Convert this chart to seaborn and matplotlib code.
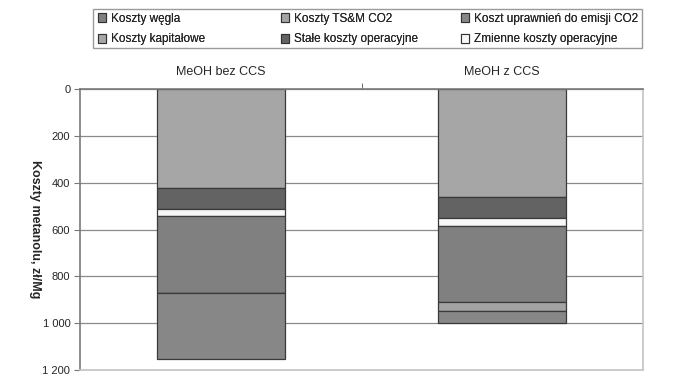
import matplotlib
matplotlib.use("Agg")
import matplotlib.pyplot as plt
import seaborn as sns
import pandas as pd
import numpy as np
from matplotlib.patches import Patch, Rectangle

categories = ["MeOH bez CCS", "MeOH z CCS"]
series_names = ["Koszty kapitałowe", "Stałe koszty operacyjne", "Zmienne koszty operacyjne",
                "Koszty węgla", "Koszty TS&M CO2", "Koszt uprawnień do emisji CO2"]
kapitalowe = [424, 460]
stale = [90, 93]
zmienne = [28, 32]
wegiel = [331, 324]
tsm = [0, 37]
uprawnienia = [282, 55]
y_ticks = [0, 200, 400, 600, 800, 1000, 1200]
y_tick_labels = ["0", "200", "400", "600", "800", "1 000", "1 200"]

colors = {
    "Koszty kapitałowe": "#a6a6a6",
    "Stałe koszty operacyjne": "#636363",
    "Zmienne koszty operacyjne": "#f7f7f7",
    "Koszty węgla": "#808080",
    "Koszty TS&M CO2": "#a3a3a3",
    "Koszt uprawnień do emisji CO2": "#878787",
}

values = [kapitalowe, stale, zmienne, wegiel, tsm, uprawnienia]
rows = []
for name, vals in zip(series_names, values):
    for c, v in zip(categories, vals):
        rows.append({"kategoria": c, "seria": name, "wartosc": v})
df = pd.DataFrame(rows)

sns.set_style("white")
plt.rcParams["font.family"] = ["Liberation Sans", "DejaVu Sans"]

fig = plt.figure(figsize=(6.9, 3.84), dpi=100)
ax = fig.add_axes([80/690, 1-370/384, (643-80)/690, (370-89)/384])

cum = pd.Series(0.0, index=categories)
for name in series_names:
    sub = df[df["seria"] == name].set_index("kategoria").loc[categories]
    sub = sub.reset_index()
    sub["start"] = cum.values
    sns.barplot(data=sub, x="kategoria", y="wartosc", ax=ax, color=colors[name],
                width=0.455, edgecolor="#3a3a3a", linewidth=0.9, saturation=1,
                bottom=sub["start"].values, order=categories)
    cum = cum + sub.set_index("kategoria")["wartosc"]

ax.set_ylim(1200, 0)
ax.set_xlim(-0.5, 1.5)
ax.set_yticks(y_ticks)
ax.set_yticklabels(y_tick_labels, fontsize=8)
ax.yaxis.grid(True, color="#8a8a8a", linewidth=0.9)
ax.set_axisbelow(True)
ax.xaxis.tick_top()
ax.xaxis.set_label_position("top")
ax.set_xticks([0, 1])
ax.set_xticklabels(categories, fontsize=9)
ax.tick_params(axis="x", length=0, pad=8)
ax.set_xticks([0.5], minor=True)
ax.tick_params(axis="x", which="minor", length=4, color="#555555", top=True)
ax.tick_params(axis="y", length=4, color="#777777", left=True, pad=3)
ax.set_xlabel("")
ax.set_ylabel("Koszty metanolu, zł/Mg", fontsize=9, fontweight="bold", rotation=270, labelpad=14)
ax.yaxis.set_label_coords(-0.09, 0.5)

for side in ["left", "top"]:
    ax.spines[side].set_color("#7a7a7a")
    ax.spines[side].set_linewidth(1.2)
for side in ["right", "bottom"]:
    ax.spines[side].set_color("#c4c4c4")
    ax.spines[side].set_linewidth(1.2)

# legend frame
frame = Rectangle((93/690, 1-48/384), (642-93)/690, (48-9)/384, transform=fig.transFigure,
                  facecolor="white", edgecolor="#9a9a9a", linewidth=1.0, zorder=0)
fig.patches.append(frame)

columns = [
    (["Koszty węgla", "Koszty kapitałowe"], 94),
    (["Koszty TS&M CO2", "Stałe koszty operacyjne"], 277),
    (["Koszt uprawnień do emisji CO2", "Zmienne koszty operacyjne"], 457),
]
for names, x0 in columns:
    handles = [Patch(facecolor=colors[n], edgecolor="#333333", linewidth=0.8, label=n) for n in names]
    leg = fig.legend(handles=handles, ncol=1, loc="upper left",
                     bbox_to_anchor=(x0/690, 1-9/384), fontsize=8.5, frameon=False,
                     borderpad=0.3, handlelength=0.75, handleheight=0.75, handletextpad=0.35,
                     labelspacing=0.75, borderaxespad=0)
    fig.add_artist(leg)

fig.savefig("out.png", dpi=100)
